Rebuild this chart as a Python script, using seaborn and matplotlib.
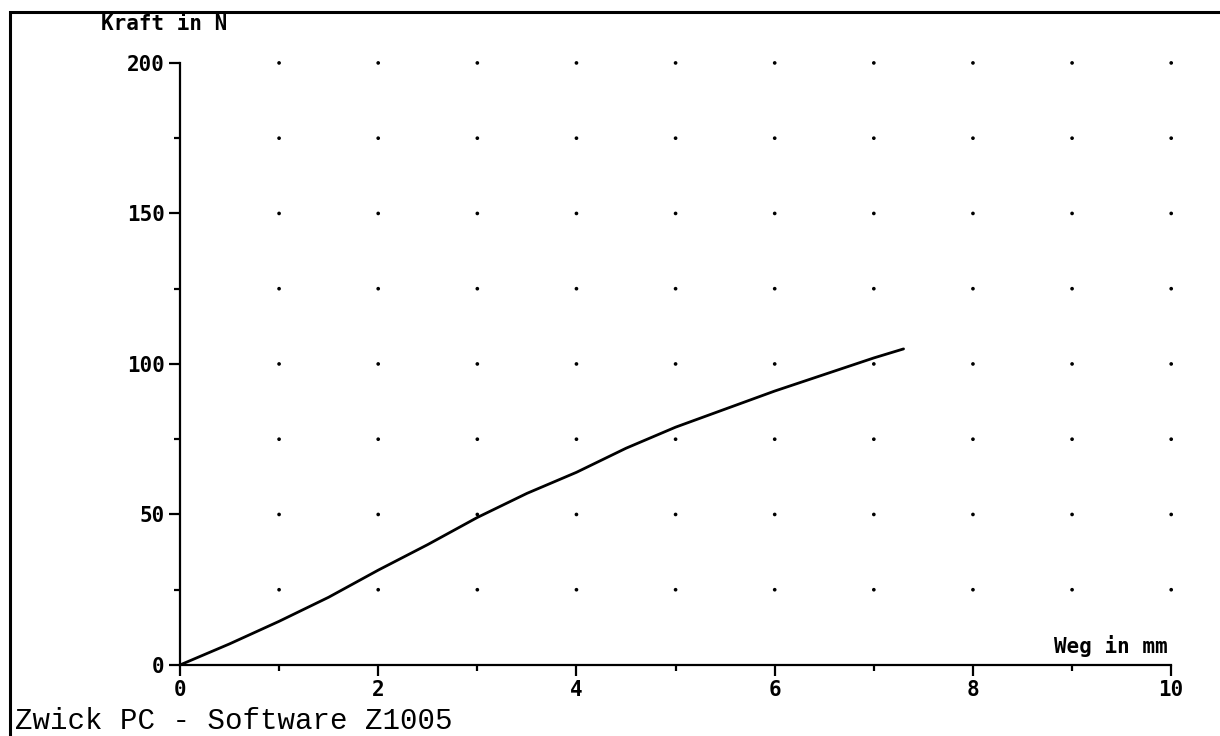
import numpy as np
import pandas as pd
import matplotlib
matplotlib.use("Agg")
import matplotlib.pyplot as plt
import seaborn as sns
from matplotlib.patches import Rectangle

# Zwick force/displacement curve
weg_mm = [0.0, 0.5, 1.0, 1.5, 2.0, 2.5, 3.0, 3.5, 4.0, 4.5, 5.0, 5.5, 6.0, 6.5, 7.0, 7.3]
kraft_n = [0.0, 7.0, 14.5, 22.5, 31.5, 40.0, 49.0, 57.0, 64.0, 72.0, 79.0, 85.0, 91.0, 96.5, 102.0, 105.0]

x_major = [0, 2, 4, 6, 8, 10]
x_minor = [1, 3, 5, 7, 9]
y_major = [0, 50, 100, 150, 200]
y_minor = [25, 75, 125, 175]

# dotted grid of the plotter
grid_x = [1, 2, 3, 4, 5, 6, 7, 8, 9, 10]
grid_y = [25, 50, 75, 100, 125, 150, 175, 200]

sns.set_style("white")
plt.rcParams['font.family'] = ['DejaVu Sans', 'DejaVu Sans Mono']
plt.rcParams['text.color'] = 'black'
plt.rcParams['xtick.color'] = 'black'
plt.rcParams['ytick.color'] = 'black'

curve = pd.DataFrame({"Weg": weg_mm, "Kraft": kraft_n})
gx, gy = np.meshgrid(grid_x, grid_y)
dots = pd.DataFrame({"x": gx.ravel(), "y": gy.ravel()})

fig = plt.figure(figsize=(12.2, 7.36), dpi=100)
ax = fig.add_axes([0.1475, 0.0965, 0.8125, 0.818])

sns.scatterplot(data=dots, x="x", y="y", ax=ax, s=7, color="black",
                edgecolor="none", clip_on=False, legend=False)
sns.lineplot(data=curve, x="Weg", y="Kraft", ax=ax, color="black",
             linewidth=2.0, estimator=None, sort=False)

ax.set_xlim(0, 10)
ax.set_ylim(0, 200)
ax.set_xlabel("")
ax.set_ylabel("")

for side in ["top", "right"]:
    ax.spines[side].set_visible(False)
for side in ["left", "bottom"]:
    ax.spines[side].set_linewidth(1.6)
    ax.spines[side].set_color("black")

ax.set_xticks(x_major)
ax.set_xticks(x_minor, minor=True)
ax.set_yticks(y_major)
ax.set_yticks(y_minor, minor=True)
ax.tick_params(axis="both", which="major", direction="out", length=8, width=1.6,
               color="black", labelcolor="black", labelsize=15, pad=3,
               bottom=True, left=True)
ax.tick_params(axis="both", which="minor", direction="out", length=4, width=1.6,
               color="black", bottom=True, left=True)
for lbl in ax.get_xticklabels() + ax.get_yticklabels():
    lbl.set_fontweight("bold")
    lbl.set_family("DejaVu Sans Mono")

ax.text(-0.16, 213, "Kraft in N", ha="center", va="center", fontsize=15,
        fontweight="bold", family="DejaVu Sans Mono", clip_on=False)
ax.text(9.96, 2.5, "Weg in mm", ha="right", va="bottom", fontsize=15,
        fontweight="bold", family="DejaVu Sans Mono")

fig.text(15 / 1220, 1 - 721 / 736, "Zwick PC - Software Z1005", ha="left",
         va="center", fontsize=21, family="Liberation Mono")

# frame of the printout
fig.patches.append(Rectangle((10 / 1220, -0.1), 1.2, 0.1 + (1 - 12 / 736),
                             transform=fig.transFigure, fill=False,
                             edgecolor="black", linewidth=2.2))

fig.savefig("out.png", dpi=100, facecolor="white")
